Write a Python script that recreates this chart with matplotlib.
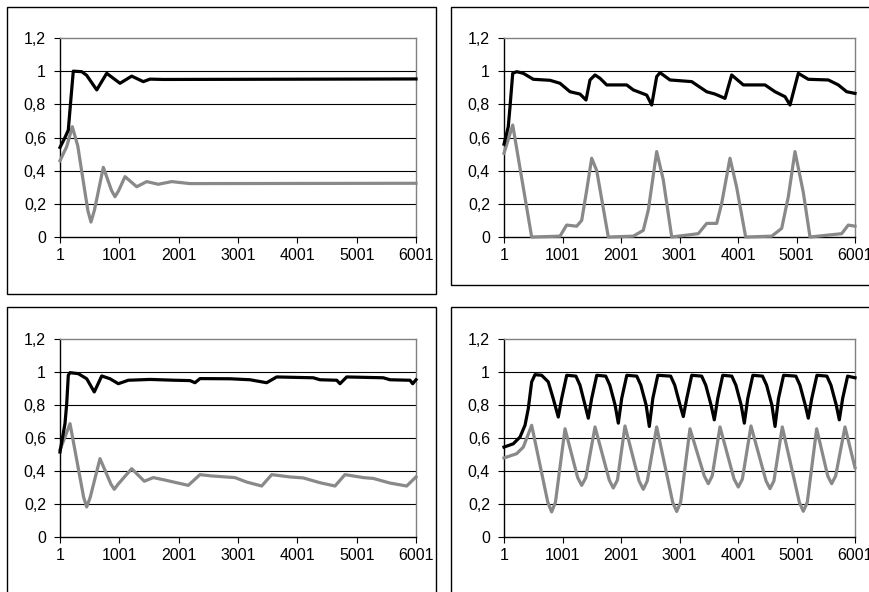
import matplotlib
matplotlib.use("Agg")
import matplotlib.pyplot as plt
from matplotlib.patches import Rectangle
from matplotlib.ticker import FuncFormatter

# x values are the simulation step (category axis 1..6001)
x_ticks = [1, 1001, 2001, 3001, 4001, 5001, 6001]
y_ticks = [0, 0.2, 0.4, 0.6, 0.8, 1.0, 1.2]

# panel 1 (top left)
p1_black_x = [1, 85, 141, 170, 208, 225, 367, 450, 620, 788, 1012, 1209, 1405, 1518, 1750, 6001]
p1_black_y = [0.54, 0.60, 0.645, 0.77, 0.93, 1.0, 0.997, 0.975, 0.887, 0.987, 0.927, 0.97, 0.937, 0.952, 0.95, 0.953]
p1_gray_x = [1, 114, 208, 300, 470, 523, 580, 731, 870, 928, 990, 1097, 1294, 1462, 1658, 1884, 2192, 6001]
p1_gray_y = [0.46, 0.545, 0.665, 0.55, 0.16, 0.09, 0.16, 0.42, 0.28, 0.243, 0.28, 0.364, 0.303, 0.334, 0.318,
             0.334, 0.322, 0.324]

# panel 2 (top right)
p2_black_x = [1, 74, 104, 150, 218, 331, 502, 787, 958, 1129, 1300, 1403, 1471, 1557, 1642, 1757,
              2098, 2211, 2440, 2526, 2611, 2668, 2838, 3209, 3466, 3608, 3779, 3893, 4092, 4463,
              4634, 4805, 4890, 5032, 5203, 5545, 5716, 5859, 6001]
p2_black_y = [0.56, 0.665, 0.786, 0.987, 0.997, 0.987, 0.951, 0.945, 0.927, 0.876, 0.862, 0.826, 0.947,
              0.977, 0.957, 0.917, 0.917, 0.887, 0.856, 0.796, 0.967, 0.991, 0.947, 0.937, 0.876, 0.862,
              0.836, 0.977, 0.917, 0.917, 0.876, 0.846, 0.796, 0.987, 0.951, 0.947, 0.917, 0.876, 0.866]
p2_gray_x = [1, 150, 474, 958, 1072, 1243, 1329, 1415, 1500, 1586, 1784, 2211, 2382, 2468, 2611, 2724,
             2868, 3322, 3466, 3637, 3722, 3864, 3978, 4132, 4577, 4748, 4861, 4975, 5117, 5232, 5773,
             5886, 6001]
p2_gray_y = [0.505, 0.675, 0.0, 0.005, 0.072, 0.065, 0.10, 0.283, 0.475, 0.40, 0.0, 0.005, 0.04, 0.163,
             0.515, 0.344, 0.0, 0.02, 0.082, 0.082, 0.203, 0.475, 0.30, 0.0, 0.005, 0.052, 0.243, 0.515,
             0.27, 0.0, 0.02, 0.072, 0.065]

# panel 3 (bottom left)
p3_black_x = [1, 40, 85, 114, 141, 170, 309, 451, 579, 704, 844, 984, 1152, 1518, 1939, 2192, 2276,
              2360, 2866, 3203, 3484, 3653, 4270, 4383, 4665, 4720, 4833, 5450, 5563, 5900, 5945, 6001]
p3_black_y = [0.515, 0.596, 0.687, 0.808, 0.98, 0.996, 0.99, 0.959, 0.879, 0.976, 0.959, 0.929, 0.95,
              0.955, 0.95, 0.948, 0.935, 0.96, 0.959, 0.953, 0.935, 0.97, 0.965, 0.953, 0.95, 0.929,
              0.97, 0.965, 0.953, 0.95, 0.929, 0.953]
p3_gray_x = [1, 57, 170, 400, 451, 510, 675, 860, 916, 980, 1209, 1422, 1573, 1771, 2163, 2360, 2558,
             2950, 3147, 3400, 3569, 3877, 4101, 4383, 4636, 4804, 5113, 5281, 5563, 5844, 6001]
p3_gray_y = [0.53, 0.58, 0.687, 0.24, 0.182, 0.24, 0.475, 0.32, 0.289, 0.32, 0.414, 0.338, 0.36, 0.345,
             0.313, 0.378, 0.37, 0.36, 0.333, 0.309, 0.378, 0.364, 0.358, 0.329, 0.309, 0.378, 0.36,
             0.355, 0.327, 0.309, 0.364]

# panel 4 (bottom right)
p4_black_x = [1, 160, 275, 360, 416, 474, 531, 645, 758, 843, 929,
              987, 1073, 1230, 1300, 1386, 1442,
              1500, 1586, 1740, 1810, 1900, 1955,
              2013, 2100, 2270, 2340, 2430, 2485,
              2545, 2630, 2850, 2920, 3010, 3066,
              3125, 3210, 3380, 3450, 3540, 3596,
              3655, 3740, 3895, 3965, 4055, 4109,
              4168, 4255, 4420, 4490, 4580, 4634,
              4693, 4780, 4990, 5060, 5150, 5203,
              5262, 5350, 5520, 5590, 5680, 5733,
              5790, 5875, 6001]
p4_black_y = [0.545, 0.565, 0.606, 0.677, 0.778, 0.94, 0.984, 0.98, 0.94, 0.838, 0.727,
              0.84, 0.98, 0.975, 0.92, 0.80, 0.72,
              0.84, 0.98, 0.975, 0.92, 0.80, 0.69,
              0.84, 0.98, 0.975, 0.92, 0.80, 0.67,
              0.84, 0.98, 0.975, 0.92, 0.80, 0.73,
              0.84, 0.98, 0.975, 0.92, 0.80, 0.71,
              0.84, 0.98, 0.975, 0.92, 0.80, 0.69,
              0.84, 0.98, 0.975, 0.92, 0.80, 0.67,
              0.84, 0.98, 0.975, 0.92, 0.80, 0.72,
              0.84, 0.98, 0.975, 0.92, 0.80, 0.71,
              0.84, 0.975, 0.965]
p4_gray_x = [1, 218, 331, 474, 750, 816, 880, 1044, 1260, 1329, 1400, 1557, 1800, 1869, 1940, 2069,
             2310, 2382, 2450, 2611, 2885, 2953, 3020, 3180, 3425, 3493, 3560, 3693, 3935, 4006, 4075,
             4223, 4480, 4548, 4615, 4758, 5050, 5117, 5185, 5346, 5535, 5602, 5670, 5830, 6001]
p4_gray_y = [0.479, 0.505, 0.545, 0.677, 0.21, 0.152, 0.21, 0.656, 0.36, 0.313, 0.36, 0.667, 0.345,
             0.297, 0.345, 0.673, 0.34, 0.289, 0.34, 0.667, 0.21, 0.155, 0.21, 0.656, 0.37, 0.323, 0.37,
             0.667, 0.35, 0.303, 0.35, 0.673, 0.34, 0.293, 0.34, 0.667, 0.21, 0.156, 0.21, 0.656, 0.37,
             0.323, 0.37, 0.667, 0.42]

BLACK = "#000000"
GRAY = "#898989"

plt.rcParams["font.family"] = ["Liberation Sans", "DejaVu Sans"]

fig = plt.figure(figsize=(8.7, 5.92), dpi=100)
W, H = 870.0, 592.0


def px_box(x0, y0, x1, y1):
    # pixel box (top-left origin) -> figure fraction [left, bottom, width, height]
    return [x0 / W, 1 - y1 / H, (x1 - x0) / W, (y1 - y0) / H]


def frame(x0, y0, x1, y1):
    fig.add_artist(Rectangle((x0 / W, 1 - y1 / H), (x1 - x0) / W, (y1 - y0) / H,
                             transform=fig.transFigure, fill=False, edgecolor="black",
                             linewidth=1.0, clip_on=False))


def comma(v, pos):
    if abs(v - round(v)) < 1e-9:
        return "%d" % round(v)
    return ("%.1f" % v).replace(".", ",")


def panel(box, bx, by, gx, gy):
    ax = fig.add_axes(px_box(*box))
    ax.plot(gx, gy, color=GRAY, linewidth=2.3, clip_on=False, zorder=3)
    ax.plot(bx, by, color=BLACK, linewidth=2.3, clip_on=False, zorder=4)
    ax.set_xlim(1, 6001)
    ax.set_ylim(0, 1.2)
    ax.set_xticks(x_ticks)
    ax.set_yticks(y_ticks)
    ax.yaxis.set_major_formatter(FuncFormatter(comma))
    for yv in y_ticks[1:-1]:
        ax.axhline(yv, color="black", linewidth=0.8, zorder=1)
    ax.spines["top"].set_color("#808080")
    ax.spines["right"].set_color("#808080")
    ax.spines["left"].set_color("black")
    ax.spines["bottom"].set_color("black")
    for s in ax.spines.values():
        s.set_linewidth(1.0)
    ax.tick_params(axis="x", direction="out", length=4, width=0.8, pad=4, labelsize=11.5)
    ax.tick_params(axis="y", direction="out", length=4, width=0.8, pad=6, labelsize=11.5)
    return ax


# chart area frames
frame(7, 7, 436, 294)
frame(451, 7, 880, 285)
frame(7, 307, 436, 600)
frame(451, 307, 880, 600)

panel((60, 38, 416, 237), p1_black_x, p1_black_y, p1_gray_x, p1_gray_y)
panel((504, 38, 855, 237), p2_black_x, p2_black_y, p2_gray_x, p2_gray_y)
panel((60, 339, 416, 537), p3_black_x, p3_black_y, p3_gray_x, p3_gray_y)
panel((504, 339, 855, 537), p4_black_x, p4_black_y, p4_gray_x, p4_gray_y)

fig.savefig("out.png", dpi=100)
